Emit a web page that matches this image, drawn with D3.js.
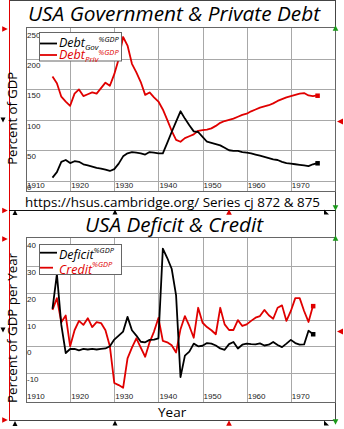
<!DOCTYPE html>
<html><head><meta charset="utf-8">
<script src="https://cdn.jsdelivr.net/npm/d3@7"></script>
<style>html,body{margin:0;padding:0;background:#fff;}svg{display:block;}</style>
</head><body><svg id="c" width="344" height="429"></svg>
<script>
// ---- data ----
const yearsDebt = [1916,1917,1918,1919,1920,1921,1922,1923,1924,1925,1926,1927,1928,1929,1930,1931,1932,1933,1934,1935,1936,1937,1938,1939,1940,1941,1942,1943,1944,1945,1946,1947,1948,1949,1950,1951,1952,1953,1954,1955,1956,1957,1958,1959,1960,1961,1962,1963,1964,1965,1966,1967,1968,1969,1970,1971,1972,1973,1974,1975,1976];
const debtGov = [5,14,31,34,29,32,31,27,25,23,21,20,18,16,19,28,40,45,47,46,45,43,47,46,45,45,62,80,97,114,102,91,81,80,72,64,62,60,58,54,50,49,49,47,46,45,43,41,39,37,35,34,31,29,28,27,26,25,24,27,29];
const debtPriv = [171,160,138,130,123,143,150,139,142,145,143,152,161,156,175,200,236,222,192,178,162,141,145,137,130,117,100,82,67,64,70,73,76,82,83,84,86,90,95,98,100,102,105,108,110,114,117,120,122,124,127,131,134,137,139,141,143,144,140,139,140];
const yearsFlow = [1916,1917,1918,1919,1920,1921,1922,1923,1924,1925,1926,1927,1928,1929,1930,1931,1932,1933,1934,1935,1936,1937,1938,1939,1940,1941,1942,1943,1944,1945,1946,1947,1948,1949,1950,1951,1952,1953,1954,1955,1956,1957,1958,1959,1960,1961,1962,1963,1964,1965,1966,1967,1968,1969,1970,1971,1972,1973,1974,1975];
const deficit = [14,27,8,-2.5,-1,-1,-1.5,-1,-1.2,-1,-1.2,-1,-0.8,0,2.5,4,5.5,11,6,4,1.7,1.5,2.4,2.5,3,36.5,33,29,19,-11.5,-3.5,-2,1,0,0.2,1.2,1,0.3,-0.8,-1.3,0.8,1.6,-0.8,0.6,1,0.8,0.7,1.1,0.3,0.6,1.6,0.5,-0.3,1,2.4,1.2,0.6,0.7,5.8,4.6];
const credit = [13.6,18,9,11.5,0,6,9.5,8,10.5,7.2,9,8.7,6,0,-13.7,-14.5,-15.5,-4.5,-0.5,3,-0.5,-3.9,1.5,5.5,10.6,2,1.5,0.4,-2.3,6.4,11.3,7.6,3.2,14.4,8.8,7.2,6,4.5,14.4,8.2,6.1,6.1,9.8,7.6,8.2,9.5,10.7,11.3,13.6,11.6,10.3,14.4,15.3,9.5,13.2,18,18,13.2,9.1,15.1];
const xTicks = [1910,1920,1930,1940,1950,1960,1970];
const yTicksTop = [0,50,100,150,200,250];
const yTicksBot = [-10,0,10,20,30,40];

const titleTop = "USA Government & Private Debt";
const titleBot = "USA Deficit & Credit";
const source = "https://hsus.cambridge.org/ Series cj 872 & 875";

// ---- drawing ----
const svg = d3.select("#c");
const RED = "#e00000", GRID = "#a8a8a8", FR = "#444";
const tickFont = "'Liberation Sans', Arial, sans-serif";
const mainFont = "'Open Sans', 'Liberation Sans', sans-serif";

const x = d3.scaleLinear().domain([1910,1980]).range([26,335]);
const yT = d3.scaleLinear().domain([0,250]).range([180.7,28.5]);
const yB = d3.scaleLinear().domain([-20,40]).range([399.8,239.3]);

// outer frame
svg.append("line").attr("x1",9).attr("x2",335.5).attr("y1",0.5).attr("y2",0.5).attr("stroke",FR);
svg.append("line").attr("x1",335.5).attr("x2",335.5).attr("y1",0).attr("y2",420).attr("stroke",FR);
svg.append("line").attr("x1",9.5).attr("x2",9.5).attr("y1",0).attr("y2",420).attr("stroke",RED);
svg.append("line").attr("x1",9).attr("x2",335.5).attr("y1",420.5).attr("y2",420.5).attr("stroke",FR);
svg.append("line").attr("x1",9).attr("x2",335.5).attr("y1",210.5).attr("y2",210.5).attr("stroke","#111");

function panel(y, top, bottom, yTicks, skipTopGrid){
  const g = svg.append("g");
  // vertical grid
  g.selectAll("line.vg").data(xTicks.slice(1)).join("line")
    .attr("x1",d=>Math.round(x(d))+0.5).attr("x2",d=>Math.round(x(d))+0.5)
    .attr("y1",top).attr("y2",bottom).attr("stroke",GRID);
  g.selectAll("line.hg").data(yTicks.filter(v=>v!==skipTopGrid)).join("line")
    .attr("x1",26).attr("x2",335).attr("y1",d=>Math.round(y(d))+0.5).attr("y2",d=>Math.round(y(d))+0.5)
    .attr("stroke",GRID);
  g.append("rect").attr("x",26.5).attr("y",top).attr("width",309).attr("height",bottom-top)
    .attr("fill","none").attr("stroke","#666");
  // y tick labels
  g.selectAll("text.yl").data(yTicks).join("text")
    .attr("x",27).attr("y",d=>Math.round(y(d))+9)
    .attr("font-family",tickFont).attr("font-size",8).attr("fill","#222").text(d=>d);
  // x tick labels
  g.selectAll("text.xl").data(xTicks).join("text")
    .attr("x",d=>x(d)+1).attr("y",bottom-3.5)
    .attr("font-family",tickFont).attr("font-size",8).attr("fill","#222").text(d=>d);
  return g;
}
panel(yT, 27.5, 191.5, yTicksTop, 250);
panel(yB, 237.5, 402.5, yTicksBot, 40);

function series(years, vals, y, color){
  const pts = years.map((d,i)=>[d,vals[i]]);
  svg.append("path").datum(pts)
    .attr("d", d3.line().x(d=>x(d[0])).y(d=>y(d[1])))
    .attr("fill","none").attr("stroke",color).attr("stroke-width",1.8).attr("stroke-linejoin","round");
  const last = pts[pts.length-1];
  svg.append("rect").attr("x",x(last[0])-2).attr("y",y(last[1])-2).attr("width",4.5).attr("height",4.5).attr("fill",color);
}
series(yearsDebt, debtPriv, yT, RED);
series(yearsDebt, debtGov, yT, "#000");
series(yearsFlow, credit, yB, RED);
series(yearsFlow, deficit, yB, "#000");

// titles
function title(t, xx, yy, len){
  svg.append("text").attr("x",xx).attr("y",yy).attr("font-family",mainFont).attr("font-style","italic")
    .attr("font-size",20).attr("textLength",len).attr("lengthAdjust","spacingAndGlyphs").attr("fill","#000").text(t);
}
title(titleTop, 28, 20.7, 292);
title(titleBot, 85, 231.7, 178);
svg.append("text").attr("x",25).attr("y",206.5).attr("font-family",mainFont).attr("font-size",13.5)
  .attr("textLength",295).attr("lengthAdjust","spacingAndGlyphs").text(source);
svg.append("text").attr("x",158).attr("y",416.5).attr("font-family",mainFont).attr("font-size",13.5).text("Year");
svg.append("text").attr("transform","translate(16.5,118.3) rotate(-90)").attr("text-anchor","middle")
  .attr("font-family",mainFont).attr("font-size",13).attr("textLength",93).attr("lengthAdjust","spacingAndGlyphs").text("Percent of GDP");
svg.append("text").attr("transform","translate(16.5,328) rotate(-90)").attr("text-anchor","middle")
  .attr("font-family",mainFont).attr("font-size",13).attr("textLength",150).attr("lengthAdjust","spacingAndGlyphs").text("Percent of GDP per Year");

// legends
function legendBox(x0,y0,x1,y1){
  svg.append("rect").attr("x",x0).attr("y",y0).attr("width",x1-x0).attr("height",y1-y0)
    .attr("fill","#fff").attr("stroke","#666");
}
function legendLine(yy,color,x2){
  svg.append("line").attr("x1",40).attr("x2",x2).attr("y1",yy).attr("y2",yy).attr("stroke",color).attr("stroke-width",1.8);
}
function legendText(yy,color,main,sub,sup,supDy){
  const t = svg.append("text").attr("x",59).attr("y",yy).attr("font-family",mainFont).attr("font-style","italic")
    .attr("fill",color).attr("font-size",12.5);
  t.append("tspan").text(main);
  if(sub){ t.append("tspan").attr("font-size",8).attr("dy",3).text(sub); }
  t.append("tspan").attr("font-size",7.5).attr("dy",supDy).text(sup);
}
legendBox(39.5,32.5,121.5,61);
legendLine(43.5,"#000",57);
legendText(46.5,"#000","Debt","Gov","%GDP",-7.5);
legendLine(55,RED,57);
legendText(59,RED,"Debt","Priv","%GDP",-7.5);

legendBox(39.5,244.5,121.5,274.5);
legendLine(252.7,"#000",57);
legendText(259,"#000","Deficit",null,"%GDP",-6.5);
legendLine(267.7,RED,53);
legendText(273.5,RED,"Credit",null,"%GDP",-6.5);

// decorative handles
function tri(cx,cy,dir,color,s){
  s = s||3;
  let p;
  if(dir==="r") p=[[cx-s,cy-s],[cx+s,cy],[cx-s,cy+s]];
  if(dir==="l") p=[[cx+s,cy-s],[cx-s,cy],[cx+s,cy+s]];
  if(dir==="u") p=[[cx-s,cy+s],[cx,cy-s],[cx+s,cy+s]];
  if(dir==="d") p=[[cx-s,cy-s],[cx,cy+s],[cx+s,cy-s]];
  svg.append("path").attr("d","M"+p.map(q=>q.join(",")).join("L")+"Z").attr("fill",color);
}
[29,210.5,239,420].forEach(yy=>tri(5,yy,"r",RED,2.8));
tri(3,120,"d","#000",2.5); tri(3,330,"d","#000",2.5);
tri(340,121.5,"l",RED,3); tri(340,331.5,"l",RED,3);
const GREEN="#1a9a1a";
tri(335.5,28,"u",GREEN,2.8); tri(335.5,208,"d",GREEN,2.8); tri(335.5,238,"u",GREEN,2.8); tri(335.5,422,"d",GREEN,2.8);
[212.5,423.5].forEach(yy=>{
  tri(15,yy,"u","#000",2.5); tri(115,yy-0.5,"u","#000",2.5); tri(229,yy-0.5,"u",RED,2.8);
  svg.append("path").attr("d",`M${324},${yy-3}L${329},${yy+2}L${324},${yy+2}Z`).attr("fill","#000");
});
</script></body></html>
